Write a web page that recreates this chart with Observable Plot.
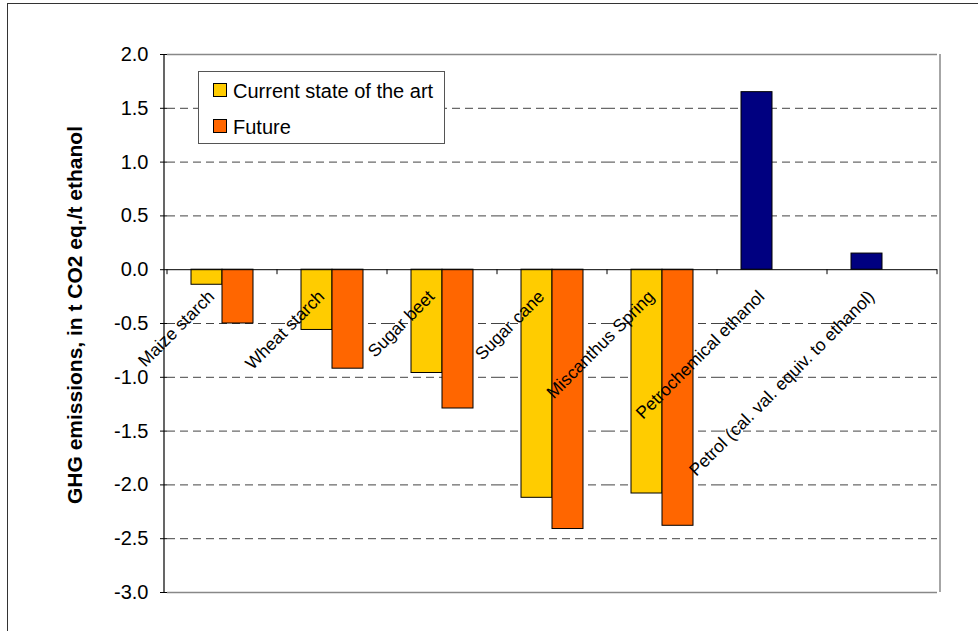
<!DOCTYPE html>
<html><head><meta charset="utf-8">
<script src="https://cdn.jsdelivr.net/npm/d3@7"></script>
<script src="https://cdn.jsdelivr.net/npm/@observablehq/plot@0.6"></script>
<style>
body{margin:0;background:#fff;overflow:hidden;font-family:"Liberation Sans",Arial,sans-serif;}
#wrap{position:relative;width:978px;height:631px;overflow:hidden;}
#outer{position:absolute;left:7px;top:3px;width:1100px;height:800px;border-left:1.5px solid #333;border-top:1.5px solid #333;}
#chart{position:absolute;left:0;top:0;}
#ytitle{position:absolute;left:75px;top:315px;transform:translate(-50%,-50%) rotate(-90deg);white-space:nowrap;font-weight:bold;font-size:21px;color:#000;}
#legend{position:absolute;left:198px;top:71px;width:245px;height:71px;border:1px solid #555;background:#fff;}
.sw{position:absolute;left:14px;width:12px;height:12px;border:1px solid #000;}
.lt{position:absolute;left:34px;font-size:20px;line-height:20px;white-space:nowrap;color:#000;}
</style></head><body>
<div id="wrap"><div id="outer"></div><div id="chart"></div><div id="ytitle"></div><div id="legend"></div></div>
<script>
const categories = ["Maize starch","Wheat starch","Sugar beet","Sugar cane","Miscanthus Spring","Petrochemical ethanol","Petrol (cal. val. equiv. to ethanol)"];
const seriesNames = ["Current state of the art","Future"];
const currentValues = [-0.14,-0.56,-0.96,-2.12,-2.08,1.65,0.15];
const futureValues = [-0.50,-0.92,-1.29,-2.41,-2.38,null,null];
const fossilCategories = ["Petrochemical ethanol","Petrol (cal. val. equiv. to ethanol)"];
const yTicks = [-3,-2.5,-2,-1.5,-1,-0.5,0,0.5,1,1.5,2];
const yTitle = "GHG emissions, in t CO2 eq./t ethanol";
const seriesColors = ["#FFCC00","#FF6600"];
const fossilColor = "#000080";

const rows = [];
categories.forEach((c,i)=>{
  const fossil = fossilCategories.includes(c);
  rows.push({category:c, slot:"Current", value:currentValues[i], key: fossil ? "Fossil" : seriesNames[0]});
  if (futureValues[i] != null) rows.push({category:c, slot:"Future", value:futureValues[i], key:seriesNames[1]});
});
const gridTicks = yTicks.filter(v => v !== 0 && v !== yTicks[0] && v !== yTicks[yTicks.length-1]);

const W = 978, H = 631, ML = 164, MR = 38, MT = 54, MB = 39;
const plot = Plot.plot({
  width:W, height:H, marginLeft:ML, marginRight:MR, marginTop:MT, marginBottom:MB,
  style:{fontFamily:'"Liberation Sans", Arial, sans-serif', background:"transparent", color:"#000"},
  fx:{domain:categories, padding:0, axis:null},
  x:{domain:["Current","Future"], paddingInner:0, paddingOuter:0.732, axis:null},
  y:{domain:[yTicks[0], yTicks[yTicks.length-1]], axis:null},
  color:{domain:[seriesNames[0], seriesNames[1], "Fossil"], range:[seriesColors[0], seriesColors[1], fossilColor]},
  marks:[
    Plot.gridY(gridTicks, {stroke:"#444", strokeOpacity:1, strokeWidth:1, strokeDasharray:"8,5"}),
    Plot.ruleY([yTicks[0], yTicks[yTicks.length-1]], {stroke:"#888", strokeWidth:1.5}),
    Plot.barY(rows, {fx:"category", x:"slot", y:"value", fill:"key", stroke:"#000", strokeWidth:1}),
    Plot.ruleY([0], {stroke:"#000", strokeWidth:1}),
    Plot.axisY(yTicks, {anchor:"left", tickFormat:d => d.toFixed(1), tickSize:7, tickPadding:12, fontSize:20, label:null, stroke:"#000"}),
    Plot.text(categories, {fx:d => d, y:() => 0, text:d => d, rotate:-45, textAnchor:"end", lineAnchor:"middle", fontSize:17.5, dx:-11, dy:24, fill:"#000"})
  ]
});
document.getElementById("chart").appendChild(plot);

// frame lines and category ticks via scales
const svg = d3.select(plot);
const ys = plot.scale("y");
const fxs = plot.scale("fx");
svg.append("line").attr("x1", W-MR).attr("x2", W-MR).attr("y1", ys.apply(yTicks[yTicks.length-1])).attr("y2", ys.apply(yTicks[0])).attr("stroke","#888").attr("stroke-width",1.5);
svg.append("line").attr("x1", ML).attr("x2", ML).attr("y1", ys.apply(yTicks[yTicks.length-1])).attr("y2", ys.apply(yTicks[0])).attr("stroke","#000").attr("stroke-width",1.2);
const edges = categories.map(c => fxs.apply(c)).concat([fxs.apply(categories[categories.length-1]) + fxs.bandwidth]);
edges.forEach(e => {
  svg.append("line").attr("x1", e).attr("x2", e).attr("y1", ys.apply(0)).attr("y2", ys.apply(0)+5).attr("stroke","#000").attr("stroke-width",1);
});

document.getElementById("ytitle").textContent = yTitle;
const leg = document.getElementById("legend");
[seriesColors[0], seriesColors[1]].forEach((col,i)=>{
  const sw = document.createElement("div"); sw.className="sw"; sw.style.background=col; sw.style.top=(11+i*36)+"px"; leg.appendChild(sw);
  const t = document.createElement("div"); t.className="lt"; t.style.top=(9+i*36)+"px"; t.textContent=seriesNames[i]; leg.appendChild(t);
});
</script>
</body></html>
